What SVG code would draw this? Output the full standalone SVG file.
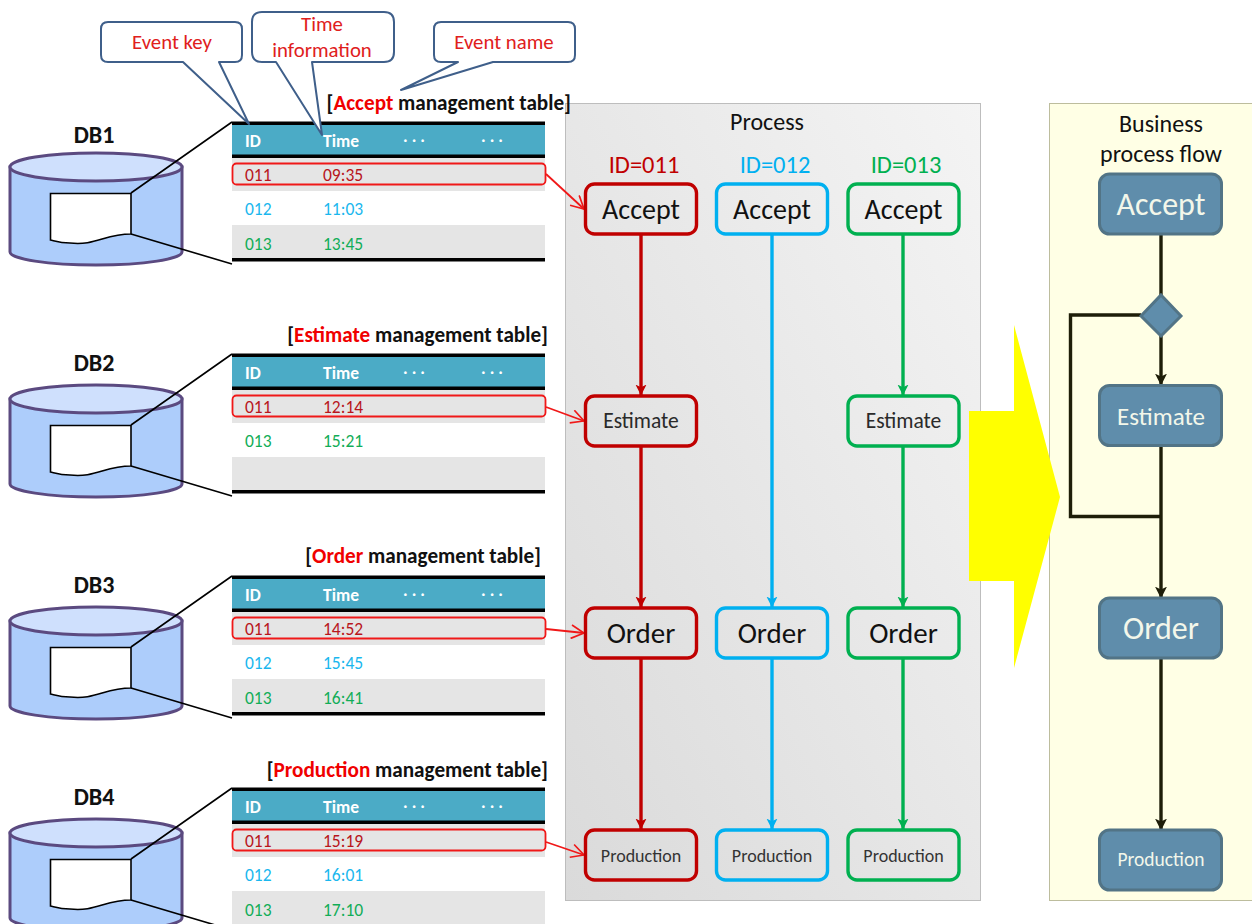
<svg xmlns="http://www.w3.org/2000/svg" width="1252" height="924" viewBox="0 0 1252 924">
<style>
text{font-family:Carlito,Calibri,Lato,"Open Sans",sans-serif;text-anchor:middle;fill:#111}
.call{fill:#fff;stroke:#3f5f8a;stroke-width:2;stroke-linejoin:round}
.ct{font-size:20.800px;fill:#e0201c}
.db{font-size:24px;font-weight:700}
.tt{font-size:21.200px;font-weight:700;text-anchor:end}
.red{fill:#f00000}
.hd{font-size:17.500px;font-weight:700;fill:#fff;text-anchor:start}
.dots{font-size:17.500px;font-weight:700;fill:#fff;text-anchor:start;letter-spacing:4px}
.c{font-size:17.500px;text-anchor:start}
.r{fill:#b8161c}.b{fill:#1ab7ee}.g{fill:#12ad58}
.n{fill:none;stroke-width:3.400}
.nr{stroke:#c00000}.nb{stroke:#00b0f0}.ng{stroke:#00b050}
.lbl{font-size:28px}.ord{font-size:29px}.sm{font-size:21.500px;fill:#2a2a2a}.xs{font-size:18px;fill:#333}
.ttl{font-size:24px}
.idl{font-size:24.500px}
.fn{fill:#5f8dab;stroke:#527486;stroke-width:3}
.fl{fill:#f3f7ea}
.wire{fill:none;stroke:#1e1e08;stroke-width:3.400}
.lr{fill:none;stroke-width:3.400}
.redl{fill:none;stroke:#f01818;stroke-width:1.800}
.rr{fill:none;stroke:#f01818;stroke-width:1.800}
</style>
<defs>
<linearGradient id="gp" x1="1" y1="0" x2="0" y2="1"><stop offset="0" stop-color="#f4f4f4"/><stop offset="1" stop-color="#dadada"/></linearGradient>
<marker id="ar" viewBox="0 0 10 10" refX="9.500" refY="5" markerWidth="11" markerHeight="12" markerUnits="userSpaceOnUse" orient="auto"><path d="M0 0L10 5L0 10L2.500 5Z" fill="#c00000"/></marker>
<marker id="ab" viewBox="0 0 10 10" refX="9.500" refY="5" markerWidth="11" markerHeight="12" markerUnits="userSpaceOnUse" orient="auto"><path d="M0 0L10 5L0 10L2.500 5Z" fill="#00b0f0"/></marker>
<marker id="ag" viewBox="0 0 10 10" refX="9.500" refY="5" markerWidth="11" markerHeight="12" markerUnits="userSpaceOnUse" orient="auto"><path d="M0 0L10 5L0 10L2.500 5Z" fill="#00b050"/></marker>
<marker id="ak" viewBox="0 0 10 10" refX="9.500" refY="5" markerWidth="12" markerHeight="12" markerUnits="userSpaceOnUse" orient="auto"><path d="M0 0L10 5L0 10L2.500 5Z" fill="#1e1e08"/></marker>
<marker id="ao" viewBox="0 0 10 10" refX="9.500" refY="5" markerWidth="15" markerHeight="15" markerUnits="userSpaceOnUse" orient="auto"><path d="M1 0.500L9.500 5L1 9.500" fill="none" stroke="#f01818" stroke-width="1.100"/></marker>
<g id="cyl">
<path d="M10 167V252C10 259 48 265 96 265S182 259 182 252V167Z" fill="#adcdfb" stroke="#5b4a80" stroke-width="3"/>
<ellipse cx="96" cy="167" rx="86" ry="14" fill="#cfe0fd" stroke="#5b4a80" stroke-width="3"/>
<path d="M50.500 193.500H131V234C105 234 95 246 70 243C60 243 55 241 50.500 240Z" fill="#fff" stroke="#000" stroke-width="1.600"/>
<path d="M131 193L232 122M131 234L232 264" fill="none" stroke="#000" stroke-width="1.600"/>
</g>
<g id="tbl">
<rect x="232" y="122" width="313" height="139" fill="#fff"/>
<rect x="232" y="125" width="313" height="30" fill="#4babc6"/>
<rect x="232" y="158" width="313" height="33" fill="#e5e5e5"/>
<rect x="232" y="225" width="313" height="33" fill="#e5e5e5"/>
<rect x="232" y="121.500" width="313" height="3.500" fill="#000"/>
<rect x="232" y="154.500" width="313" height="3.500" fill="#000"/>
<rect x="232" y="258" width="313" height="3.500" fill="#000"/>
<text class="hd" x="245" y="147">ID</text><text class="hd" x="323" y="147">Time</text>
<text class="dots" x="403" y="142">...</text><text class="dots" x="481" y="142">...</text>
</g>
</defs>
<rect width="1252" height="924" fill="#fff"/>
<g id="process-panel"><rect x="565.500" y="103.500" width="415" height="797" fill="url(#gp)" stroke="#bdbdbd"/><text class="ttl" x="767" y="130">Process</text></g>
<g id="flow-panel"><rect x="1049.500" y="103.500" width="204" height="797" fill="#ffffe5" stroke="#bdbd9d"/><text class="ttl" x="1161" y="132">Business</text><text class="ttl" x="1161" y="162">process flow</text></g>
<g id="big-arrow"><polygon points="969,411 1014,411 1014,325 1060,497 1014,668 1014,581 969,581" fill="#ff0"/></g>

<g id="db1"><text class="db" x="94" y="143">DB1</text><use href="#cyl"/></g>
<g id="table1"><use href="#tbl"/><text class="tt" x="571" y="110">[<tspan class="red">Accept</tspan> management table]</text>
<text class="c r" x="245" y="181">011</text><text class="c r" x="323" y="181">09:35</text><text class="c b" x="245" y="215">012</text><text class="c b" x="323" y="215">11:03</text><text class="c g" x="245" y="250">013</text><text class="c g" x="323" y="250">13:45</text>
<rect class="rr" x="232.500" y="163.500" width="313" height="21" rx="4"/></g>

<g id="db2" transform="translate(0,232)"><text class="db" x="94" y="139">DB2</text><use href="#cyl"/></g>
<g id="table2" transform="translate(0,232)"><use href="#tbl"/><text class="tt" x="548" y="110">[<tspan class="red">Estimate</tspan> management table]</text>
<text class="c r" x="245" y="181">011</text><text class="c r" x="323" y="181">12:14</text><text class="c g" x="245" y="215">013</text><text class="c g" x="323" y="215">15:21</text>
<rect class="rr" x="232.500" y="163.500" width="313" height="21" rx="4"/></g>

<g id="db3" transform="translate(0,454)"><text class="db" x="94" y="139">DB3</text><use href="#cyl"/></g>
<g id="table3" transform="translate(0,454)"><use href="#tbl"/><text class="tt" x="541" y="109">[<tspan class="red">Order</tspan> management table]</text>
<text class="c r" x="245" y="181">011</text><text class="c r" x="323" y="181">14:52</text><text class="c b" x="245" y="215">012</text><text class="c b" x="323" y="215">15:45</text><text class="c g" x="245" y="250">013</text><text class="c g" x="323" y="250">16:41</text>
<rect class="rr" x="232.500" y="163.500" width="313" height="21" rx="4"/></g>

<g id="db4" transform="translate(0,666)"><text class="db" x="94" y="139">DB4</text><use href="#cyl"/></g>
<g id="table4" transform="translate(0,666)"><use href="#tbl"/><text class="tt" x="548" y="111">[<tspan class="red">Production</tspan> management table]</text>
<text class="c r" x="245" y="181">011</text><text class="c r" x="323" y="181">15:19</text><text class="c b" x="245" y="215">012</text><text class="c b" x="323" y="215">16:01</text><text class="c g" x="245" y="250">013</text><text class="c g" x="323" y="250">17:10</text>
<rect class="rr" x="232.500" y="163.500" width="313" height="21" rx="4"/></g>

<g id="callout-event-key"><path class="call" d="M108 22H235Q242 22 242 29V55Q242 62 235 62H219L249 124L183 62H108Q101 62 101 55V29Q101 22 108 22Z"/><text class="ct" x="172" y="49">Event key</text></g>
<g id="callout-time"><path class="call" d="M262 12H384Q394 12 394 22V52Q394 62 384 62H312L322 135L276 62H262Q252 62 252 52V22Q252 12 262 12Z"/><text class="ct" x="322" y="31">Time</text><text class="ct" x="322" y="57">information</text></g>
<g id="callout-event-name"><path class="call" d="M441 22H568Q575 22 575 29V55Q575 62 568 62H493L401 90L458 62H441Q434 62 434 55V29Q434 22 441 22Z"/><text class="ct" x="504" y="49">Event name</text></g>

<g id="connectors">
<path class="redl" marker-end="url(#ao)" d="M546 174L584 209"/>
<path class="redl" marker-end="url(#ao)" d="M546 407L584 421"/>
<path class="redl" marker-end="url(#ao)" d="M546 629L584 633"/>
<path class="redl" marker-end="url(#ao)" d="M546 842L584 855"/>
<path class="lr nr" marker-end="url(#ar)" d="M641 235V395"/><path class="lr nr" marker-end="url(#ar)" d="M641 447V607"/><path class="lr nr" marker-end="url(#ar)" d="M641 659V829"/>
<path class="lr nb" marker-end="url(#ab)" d="M772 235V607"/><path class="lr nb" marker-end="url(#ab)" d="M772 659V829"/>
<path class="lr ng" marker-end="url(#ag)" d="M903 235V395"/><path class="lr ng" marker-end="url(#ag)" d="M903 447V607"/><path class="lr ng" marker-end="url(#ag)" d="M903 659V829"/>
<path class="wire" d="M1161 235V295"/><path class="wire" marker-end="url(#ak)" d="M1161 335V385"/><path class="wire" marker-end="url(#ak)" d="M1161 447V598"/><path class="wire" marker-end="url(#ak)" d="M1161 659V830"/>
<path class="wire" d="M1141 315H1070.500V516.500H1161"/>
</g>

<text x="644" y="173" class="idl" style="fill:#c00000">ID=011</text>
<text x="775" y="173" class="idl" style="fill:#00b0f0">ID=012</text>
<text x="906" y="173" class="idl" style="fill:#00b050">ID=013</text>

<g id="p-accept-011"><rect class="n nr" x="585.500" y="184" width="111" height="50" rx="9"/><text class="lbl" x="641" y="219">Accept</text></g>
<g id="p-accept-012"><rect class="n nb" x="716.500" y="184" width="111" height="50" rx="9"/><text class="lbl" x="772" y="219">Accept</text></g>
<g id="p-accept-013"><rect class="n ng" x="848" y="184" width="111" height="50" rx="9"/><text class="lbl" x="903.500" y="219">Accept</text></g>
<g id="p-estimate-011"><rect class="n nr" x="585.500" y="396" width="111" height="50" rx="9"/><text class="sm" x="641" y="428">Estimate</text></g>
<g id="p-estimate-013"><rect class="n ng" x="848" y="396" width="111" height="50" rx="9"/><text class="sm" x="903.500" y="428">Estimate</text></g>
<g id="p-order-011"><rect class="n nr" x="585.500" y="608" width="111" height="50" rx="9"/><text class="ord" x="641" y="643">Order</text></g>
<g id="p-order-012"><rect class="n nb" x="716.500" y="608" width="111" height="50" rx="9"/><text class="ord" x="772" y="643">Order</text></g>
<g id="p-order-013"><rect class="n ng" x="848" y="608" width="111" height="50" rx="9"/><text class="ord" x="903.500" y="643">Order</text></g>
<g id="p-production-011"><rect class="n nr" x="585.500" y="830" width="111" height="50" rx="9"/><text class="xs" x="641" y="862">Production</text></g>
<g id="p-production-012"><rect class="n nb" x="716.500" y="830" width="111" height="50" rx="9"/><text class="xs" x="772" y="862">Production</text></g>
<g id="p-production-013"><rect class="n ng" x="848" y="830" width="111" height="50" rx="9"/><text class="xs" x="903.500" y="862">Production</text></g>

<g id="f-accept"><rect class="fn" x="1099.500" y="174" width="122" height="60" rx="10"/><text class="fl" x="1161" y="215" style="font-size:32px">Accept</text></g>
<g id="f-decision"><polygon class="fn" points="1161,295 1181,316 1161,336 1141,316"/></g>
<g id="f-estimate"><rect class="fn" x="1099.500" y="385.500" width="122" height="60" rx="10"/><text class="fl" x="1161" y="425" style="font-size:25px">Estimate</text></g>
<g id="f-order"><rect class="fn" x="1099.500" y="598" width="122" height="60" rx="10"/><text class="fl" x="1161" y="639" style="font-size:32px">Order</text></g>
<g id="f-production"><rect class="fn" x="1099.500" y="830" width="122" height="60" rx="10"/><text class="fl" x="1161" y="866" style="font-size:19.500px">Production</text></g>
</svg>
